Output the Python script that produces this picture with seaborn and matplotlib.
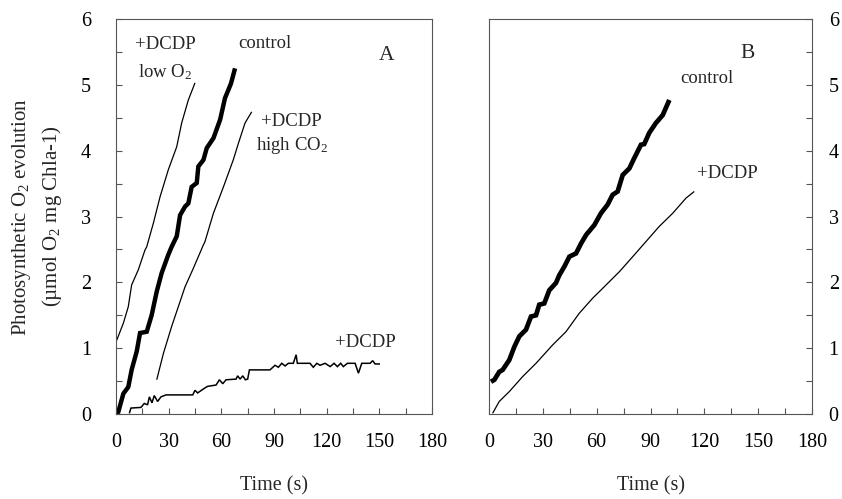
import matplotlib
matplotlib.use("Agg")
import matplotlib.pyplot as plt
import seaborn as sns
import pandas as pd
from matplotlib.ticker import MultipleLocator

# ---------------- data ----------------
# Panel A
a_ctrl_t = [0, 1.3, 4.2, 7.0, 8.9, 11.8, 13.7, 17.5, 20.3, 23.2, 26.0, 29.8, 31.7, 34.6, 36.5,
            39.3, 41.2, 43.1, 46.0, 46.9, 49.8, 51.7, 55.5, 59.3, 62.1, 65.5, 67.8]
a_ctrl_v = [0, 0.03, 0.31, 0.41, 0.67, 0.95, 1.23, 1.25, 1.50, 1.86, 2.14, 2.42, 2.54, 2.70, 3.02,
            3.15, 3.20, 3.45, 3.51, 3.76, 3.86, 4.04, 4.19, 4.47, 4.80, 5.02, 5.25]

a_lowo2_t = [0.4, 4.2, 7.0, 8.9, 12.7, 16.5, 17.5, 21.3, 25.1, 29.8, 34.6, 37.4, 41.2, 45.0]
a_lowo2_v = [1.12, 1.38, 1.63, 1.96, 2.19, 2.49, 2.54, 2.90, 3.30, 3.71, 4.06, 4.42, 4.77, 5.03]

a_hico2_t = [23.2, 27.0, 31.7, 35.5, 39.3, 44.0, 49.8, 50.7, 55.5, 61.2, 66.8, 69.7, 73.5, 77.3]
a_hico2_v = [0.52, 0.92, 1.33, 1.63, 1.93, 2.21, 2.57, 2.62, 3.05, 3.45, 3.86, 4.11, 4.42, 4.59]

a_dcdp_t = [7.6, 8.5, 14.2, 16.1, 18.0, 19.0, 20.5, 21.8, 23.7, 25.6, 28.5, 43.7, 45.0, 46.5,
            50.3, 52.2, 57.0, 58.9, 60.8, 62.7, 68.4, 69.3, 70.7, 72.2, 73.7, 75.0, 76.0, 87.7,
            90.6, 92.5, 94.4, 96.3, 98.2, 101.0, 102.6, 103.3, 110.5, 112.4, 114.4, 116.2, 119.1,
            122.0, 124.2, 126.1, 128.0, 129.5, 131.8, 136.2, 138.1, 140.0, 144.7, 146.2, 147.6, 150.4]
a_dcdp_v = [0.01, 0.09, 0.10, 0.16, 0.14, 0.26, 0.17, 0.28, 0.19, 0.26, 0.29, 0.29, 0.36, 0.32,
            0.39, 0.42, 0.44, 0.52, 0.46, 0.52, 0.53, 0.58, 0.53, 0.58, 0.52, 0.53, 0.67, 0.67,
            0.74, 0.71, 0.77, 0.73, 0.77, 0.77, 0.90, 0.77, 0.77, 0.71, 0.77, 0.74, 0.77,
            0.72, 0.77, 0.72, 0.77, 0.72, 0.77, 0.77, 0.62, 0.77, 0.77, 0.81, 0.76, 0.76]

# Panel B
b_ctrl_t = [1.1, 3.0, 5.7, 7.6, 11.3, 14.1, 16.9, 20.6, 23.4, 26.2, 28.0, 30.8, 33.6, 37.3, 39.2,
            42.0, 44.8, 48.5, 51.3, 54.1, 58.7, 62.4, 66.1, 68.9, 71.7, 74.5, 78.2, 81.0, 84.7,
            86.5, 89.3, 93.0, 96.8, 100.5]
b_ctrl_v = [0.49, 0.52, 0.64, 0.67, 0.82, 1.02, 1.18, 1.28, 1.48, 1.50, 1.66, 1.68, 1.88, 1.99, 2.11,
            2.24, 2.39, 2.44, 2.59, 2.72, 2.87, 3.05, 3.18, 3.33, 3.38, 3.63, 3.73, 3.89, 4.09,
            4.10, 4.27, 4.42, 4.54, 4.77]

b_dcdp_t = [2.0, 5.7, 11.3, 18.8, 26.2, 35.5, 42.9, 50.3, 57.8, 63.4, 72.6, 80.1, 87.5, 94.9,
            102.4, 109.8, 114.4]
b_dcdp_v = [0.01, 0.19, 0.34, 0.57, 0.77, 1.05, 1.25, 1.53, 1.76, 1.91, 2.16, 2.39, 2.62, 2.85,
            3.05, 3.28, 3.38]

x_ticklabels = ["0", "30", "60", "90", "120", "150", "180"]
y_ticklabels = ["0", "1", "2", "3", "4", "5", "6"]

# ---------------- style ----------------
sns.set_style("ticks")
plt.rcParams["font.family"] = ["Liberation Serif", "DejaVu Serif"]
plt.rcParams["mathtext.fontset"] = "custom"
plt.rcParams["mathtext.rm"] = "Liberation Serif"
plt.rcParams["mathtext.it"] = "Liberation Serif:italic"
plt.rcParams["mathtext.bf"] = "Liberation Serif:bold"

fig = plt.figure(figsize=(8.42, 4.99), dpi=100)
axA = fig.add_axes([116 / 842, 1 - 414 / 499, (432 - 116) / 842, (414 - 19) / 499])
axB = fig.add_axes([489 / 842, 1 - 414 / 499, (812 - 489) / 842, (414 - 19) / 499])

def draw(ax, t, v, lw):
    df = pd.DataFrame({"t": t, "v": v})
    sns.lineplot(data=df, x="t", y="v", ax=ax, color="black", linewidth=lw,
                 estimator=None, sort=False, solid_capstyle="butt", solid_joinstyle="miter")

draw(axA, a_lowo2_t, a_lowo2_v, 0.9)
draw(axA, a_hico2_t, a_hico2_v, 0.9)
draw(axA, a_dcdp_t, a_dcdp_v, 1.1)
draw(axA, a_ctrl_t, a_ctrl_v, 3.2)
draw(axB, b_dcdp_t, b_dcdp_v, 0.9)
draw(axB, b_ctrl_t, b_ctrl_v, 3.4)

for ax in (axA, axB):
    ax.set_xlim(0, 180)
    ax.set_ylim(0, 6)
    ax.xaxis.set_major_locator(MultipleLocator(30))
    ax.xaxis.set_minor_locator(MultipleLocator(15))
    ax.yaxis.set_major_locator(MultipleLocator(1))
    ax.yaxis.set_minor_locator(MultipleLocator(0.5))
    ax.set_xticks(range(0, 181, 30))
    ax.set_xticklabels(x_ticklabels)
    ax.set_xlabel("Time (s)", fontsize=14.5, labelpad=17)
    for s in ax.spines.values():
        s.set_visible(True)
        s.set_linewidth(0.8)
        s.set_color("#555555")
    ax.tick_params(axis="both", which="both", direction="in", length=4, width=0.8,
                   colors="#555555", labelcolor="black", labelsize=14.5)
    ax.tick_params(axis="x", which="major", pad=14)

axA.set_yticks(range(0, 7))
axA.set_yticklabels(y_ticklabels)
axA.tick_params(axis="y", which="both", left=True, right=False, labelleft=True, labelright=False, pad=18)
axA.set_ylabel("Photosynthetic O$_2$ evolution\n(µmol O$_2$ mg Chla-1)", fontsize=15,
               labelpad=12, linespacing=1.45)

axB.set_yticks(range(0, 7))
axB.set_yticklabels(y_ticklabels)
axB.tick_params(axis="y", which="both", left=False, right=True, labelleft=False, labelright=True, pad=12)
axB.set_ylabel("")

fs = 13.5
axA.text(28, 5.62, "+DCDP", fontsize=fs, ha="center", va="center")
axA.text(28, 5.2, "low O$_2$", fontsize=fs, ha="center", va="center")
axA.text(85, 5.63, "control", fontsize=fs, ha="center", va="center")
axA.text(154, 5.45, "A", fontsize=15.5, ha="center", va="center")
axA.text(100, 4.44, "+DCDP", fontsize=fs, ha="center", va="center")
axA.text(100, 4.08, "high CO$_2$", fontsize=fs, ha="center", va="center")
axA.text(142, 1.08, "+DCDP", fontsize=fs, ha="center", va="center")

axB.text(144, 5.48, "B", fontsize=15.5, ha="center", va="center")
axB.text(121.5, 5.1, "control", fontsize=fs, ha="center", va="center")
axB.text(133, 3.66, "+DCDP", fontsize=fs, ha="center", va="center")

fig.savefig("out.png", dpi=100)
